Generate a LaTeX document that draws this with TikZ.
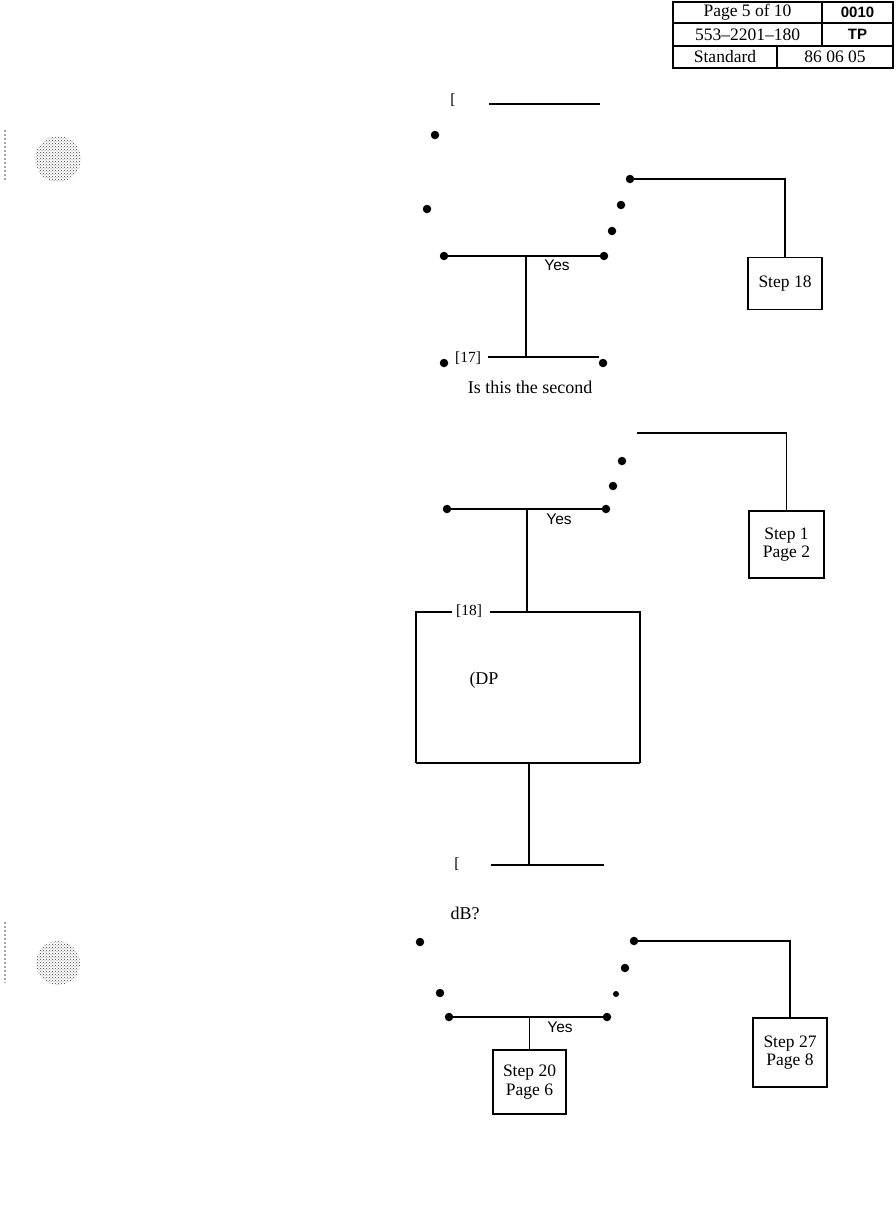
\documentclass[tikz,border=0pt]{standalone}
\usepackage{fontspec}
\setmainfont{Liberation Serif}
\setsansfont{Liberation Sans}
\usetikzlibrary{patterns}
\begin{document}
\begin{tikzpicture}[x=1pt,y=-1pt,
 dot/.style={circle,fill=black,inner sep=0pt,minimum size=8.5pt},
 ln/.style={line width=1.8pt},
 stepbox/.style={draw,line width=1.5pt,inner sep=0pt,align=center,font=\fontsize{17.5}{18.5}\selectfont},
 serif/.style={font=\fontsize{18}{20}\selectfont,inner sep=0pt},
 small/.style={font=\fontsize{15.5}{17}\selectfont,inner sep=0pt},
 yes/.style={font=\sffamily\fontsize{15.5}{17}\selectfont,inner sep=0pt},
 cell/.style={draw,line width=1.2pt,inner sep=0pt,font=\fontsize{17.5}{18}\selectfont},
 sfcell/.style={cell,font=\sffamily\bfseries\fontsize{15}{16}\selectfont},
 hole/.style={pattern=crosshatch dots,pattern color=black!75}
]
\useasboundingbox (0,0) rectangle (896,1213);

% header table
\node[cell,minimum width=149pt,minimum height=21pt] (t1) at (747.5,12.5) {Page 5 of 10};
\node[sfcell,minimum width=71pt,minimum height=21pt] (t2) at (857.5,12.5) {0010};
\node[cell,minimum width=149pt,minimum height=23pt] (t3) at (747.5,34.5) {553--2201--180};
\node[sfcell,minimum width=71pt,minimum height=23pt] (t4) at (857.5,34.5) {TP};
\node[cell,minimum width=104pt,minimum height=22pt] (t5) at (725,57) {Standard};
\node[cell,minimum width=116pt,minimum height=22pt] (t6) at (835,57) {86 06 05};
\draw[line width=1.6pt] (t1.north west) rectangle (t6.south east);

% punch holes and edge marks
\fill[hole] (58,159) circle (23);
\fill[hole] (58,963) circle (22);
\draw[gray!70,dotted,line width=2pt] (5,130) -- (5,182);
\draw[gray!70,dotted,line width=2pt] (5,922) -- (5,983);

% ---------- top section ----------
\node[small] (br1) at (453,100) {[};
\coordinate (tl1) at (489,104);
\coordinate (tl2) at (600,104);
\draw[ln] (tl1) -- (tl2);

\node[dot] (a1) at (435,135) {};
\node[dot] (a2) at (427,209) {};
\node[dot] (a3) at (630,179) {};
\node[dot] (a4) at (621,205) {};
\node[dot] (a5) at (612,231) {};
\node[dot] (a6) at (444,256) {};
\node[dot] (a7) at (604,256) {};
\node[stepbox,minimum width=74pt,minimum height=52pt] (s18) at (785,283.5) {Step 18};
\draw[ln] (a3) -| (s18.north);
\draw[ln] (a6) -- (a7);
\node[yes] (y1) at (557,265) {Yes};

\coordinate (j1) at (526,256);
\coordinate (l17a) at (488,357);
\coordinate (l17b) at (599,357);
\draw[ln] (l17a) -- (l17b);
\draw[ln] (j1) -- (j1 |- l17a);

% ---------- [17] section ----------
\node[dot] (b1) at (444,363) {};
\node[small] (n17) at (468,358) {[17]};
\node[dot] (b2) at (603,363) {};
\node[serif] (q17) at (530,387) {Is this the second};

\coordinate (m1) at (637,433);
\node[stepbox,minimum width=75pt,minimum height=67pt] (s1) at (786.5,544.5) {Step 1\\Page 2};
\draw[ln] (m1) -| (s1.north);
\node[dot] (b3) at (622,461) {};
\node[dot] (b4) at (613,486) {};
\node[dot] (b5) at (447,509) {};
\node[dot] (b6) at (606,509) {};
\draw[ln] (b5) -- (b6);
\node[yes] (y2) at (559,519) {Yes};
\coordinate (j2) at (527,509);

% ---------- [18] box ----------
\node[inner sep=0pt,minimum width=224pt,minimum height=151pt] (b18) at (528,687.5) {};
\draw[ln] (j2) -- (j2 |- b18.north);
\draw[ln] ([xshift=36pt]b18.north west) -- (b18.north west) -- (b18.south west);
\draw[ln] ([xshift=-150pt]b18.north east) -- (b18.north east) -- (b18.south east);
\draw[line width=2.3pt] (b18.south west) -- (b18.south east);
\node[small] (n18) at (469,611) {[18]};
\node[serif] (dp) at (484,680) {(DP};

\coordinate (j3) at (529,763);
\coordinate (bl1) at (491,865);
\coordinate (bl2) at (604,865);
\draw[ln] (j3) -- (j3 |- bl1);
\draw[ln] (bl1) -- (bl2);
\node[small] (br2) at (457,864) {[};

% ---------- bottom section ----------
\node[serif] (db) at (465,913) {dB?};
\node[dot] (c1) at (420,942) {};
\node[dot] (c2) at (634,941) {};
\node[dot] (c3) at (625,968) {};
\node[dot] (c4) at (440,993) {};
\node[dot,minimum size=6pt] (c5) at (616,994) {};
\node[dot] (c6) at (449,1017) {};
\node[dot] (c7) at (607,1017) {};
\draw[ln] (c6) -- (c7);
\node[yes] (y3) at (560,1027) {Yes};

\node[stepbox,minimum width=74pt,minimum height=69pt] (s27) at (790,1052.5) {Step 27\\Page 8};
\draw[ln] (c2) -| (s27.north);
\node[stepbox,minimum width=73pt,minimum height=64pt] (s20) at (529.5,1082) {Step 20\\Page 6};
\coordinate (j4) at (529.5,1017);
\draw[ln] (j4) -- (s20.north);
\end{tikzpicture}
\end{document}
